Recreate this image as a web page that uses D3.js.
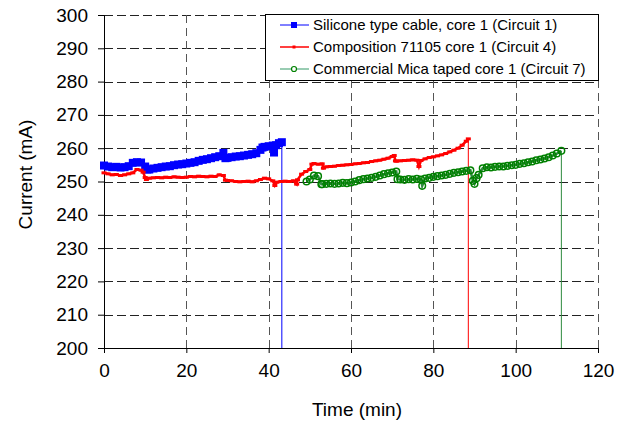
<!DOCTYPE html>
<html>
<head>
<meta charset="utf-8">
<script src="https://cdn.jsdelivr.net/npm/d3@7"></script>
<style>
  body { margin: 0; background: #fff; }
  text { font-family: Arial, "Liberation Sans", sans-serif; fill: #000; }
</style>
</head>
<body>
<div id="chart"></div>
<script>
// tick values
var xTicks = [0, 20, 40, 60, 80, 100, 120];
var yTicks = [200, 210, 220, 230, 240, 250, 260, 270, 280, 290, 300];

// series names
var seriesNames = [
  "Silicone type cable, core 1 (Circuit 1)",
  "Composition 71105 core 1 (Circuit 4)",
  "Commercial Mica taped core 1 (Circuit 7)"
];

// [time (min), current (mA)], last point is the drop at the end of the test
var siliconeData = [
  [0, 254.8], [1, 254.5], [2, 254.3], [3, 254.4], [4, 254.2], [5, 254.3], [6, 254.6],
  [7, 255.6], [8, 255.8], [9, 255.7], [10, 254.5], [10.5, 253.6], [11, 253.6], [12, 253.9],
  [13, 254.1], [14, 254.3], [15, 254.5], [16, 254.6], [17, 254.9], [18, 255.1], [19, 255.2],
  [20, 255.4], [21, 255.6], [22, 255.8], [23, 256.2], [24, 256.5], [25, 256.7], [26, 257.0],
  [27, 257.3], [28, 257.6], [29, 258.6], [29.5, 257.0], [30, 257.1], [31, 257.3], [32, 257.5],
  [33, 257.6], [34, 257.8], [35, 258.0], [36, 258.2], [37, 258.5], [38, 259.5], [38.5, 260.2],
  [39, 260.4], [40, 260.6], [41, 260.8], [41.3, 258.7], [41.8, 260.9], [42.5, 261.5],
  [43.2, 261.8], [43.2, 0]
];

var compositionData = [
  [0, 252.6], [1, 252.3], [2, 252.0], [3, 252.1], [4, 251.8], [5, 252.0], [6, 252.3],
  [7, 252.6], [8, 253.6], [9, 253.4], [9.5, 252.8], [10, 251.2], [10.3, 250.6], [11, 251.0],
  [12, 251.1], [13, 251.2], [14, 251.1], [15, 251.3], [16, 251.2], [17, 251.4], [18, 251.3],
  [19, 251.2], [20, 251.3], [21, 251.5], [22, 251.4], [23, 251.6], [24, 251.5], [25, 251.4],
  [26, 251.6], [27, 251.5], [28, 252.0], [29, 251.8], [29.5, 250.4], [30, 250.3], [31, 250.2],
  [32, 250.0], [33, 249.9], [34, 250.0], [35, 250.1], [36, 249.9], [37, 250.2], [38, 250.6],
  [39, 251.0], [40, 250.8], [41, 250.2], [41.5, 248.8], [42, 249.8], [43, 250.0], [44, 250.1],
  [45, 250.0], [46, 250.2], [46.8, 249.2], [47, 250.5], [48, 252.2], [49, 253.0], [50, 253.6],
  [50.5, 255.2], [51, 255.4], [52, 255.2], [53, 255.3], [53.3, 254.0], [54, 254.4], [55, 254.5],
  [56, 254.6], [57, 254.8], [58, 254.9], [59, 255.0], [60, 255.1], [61, 255.3], [62, 255.4],
  [63, 255.6], [64, 255.7], [65, 256.0], [66, 256.2], [67, 256.4], [68, 256.7], [69, 257.0],
  [70, 257.5], [70.5, 257.8], [70.8, 256.2], [71, 256.1], [72, 256.2], [73, 256.3], [74, 256.4],
  [75, 256.5], [76, 256.4], [76.5, 254.5], [77, 256.3], [78, 256.8], [79, 257.2], [80, 257.4],
  [81, 257.7], [82, 258.0], [83, 258.4], [84, 258.9], [85, 259.4], [86, 260.0], [87, 260.9],
  [88, 262.1], [88.5, 262.8], [88.5, 0]
];

var micaData = [
  [49.2, 250.0], [50, 250.6], [51, 251.8], [52, 251.6], [52.8, 249.2], [53, 249.2], [54, 249.3],
  [55, 249.4], [56, 249.3], [57, 249.4], [58, 249.6], [59, 249.5], [60, 249.7], [61, 250.0],
  [62, 250.4], [63, 250.7], [64, 250.9], [65, 251.1], [66, 251.4], [67, 251.8], [68, 252.2],
  [69, 252.5], [70, 252.7], [71, 253.0], [71.3, 250.7], [72, 250.6], [73, 250.5], [74, 250.7],
  [75, 250.6], [76, 250.8], [77, 250.6], [77.3, 248.7], [78, 250.9], [79, 251.1], [80, 251.4],
  [81, 251.6], [82, 251.8], [83, 252.0], [84, 252.3], [85, 252.6], [86, 252.8], [87, 253.0],
  [88, 253.2], [89, 253.4], [89.6, 250.2], [90, 249.3], [90.5, 251.0], [91, 252.0], [92, 254.0],
  [93, 254.3], [94, 254.2], [95, 254.4], [96, 254.5], [97, 254.5], [98, 254.7], [99, 254.9],
  [100, 255.0], [101, 255.3], [102, 255.5], [103, 255.8], [104, 256.0], [105, 256.4],
  [106, 256.6], [107, 256.9], [108, 257.3], [109, 257.8], [110, 258.4], [111.1, 259.2],
  [111.1, 0]
];

var margin = {top: 15, right: 30, bottom: 73, left: 104},
    width = 628 - margin.left - margin.right,
    height = 421 - margin.top - margin.bottom;

var svg = d3.select("#chart")
  .append("svg")
  .attr("width", 628)
  .attr("height", 421)
  .append("g")
  .attr("transform", "translate(" + margin.left + "," + margin.top + ")");

var xScale = d3.scaleLinear().domain([0, 120]).range([0, width]);
var yScale = d3.scaleLinear().domain([200, 300]).range([height, 0]);

svg.append("clipPath").attr("id", "plot-clip")
  .append("rect")
  .attr("x", -5).attr("y", -5)
  .attr("width", width + 10).attr("height", height + 5);

// dashed gridlines
svg.append("g").selectAll("line")
  .data(yTicks.slice(1))
  .enter().append("line")
  .attr("x1", 0).attr("x2", width)
  .attr("y1", function(d) { return Math.round(yScale(d)) + 0.5; })
  .attr("y2", function(d) { return Math.round(yScale(d)) + 0.5; })
  .attr("stroke", "#222")
  .attr("stroke-dasharray", "9,4");

svg.append("g").selectAll("line")
  .data(xTicks.slice(1))
  .enter().append("line")
  .attr("y1", 0).attr("y2", height)
  .attr("x1", function(d) { return Math.round(xScale(d)) + 0.5; })
  .attr("x2", function(d) { return Math.round(xScale(d)) + 0.5; })
  .attr("stroke", "#555")
  .attr("stroke-dasharray", "8,5");

// axes
var xAxis = d3.axisBottom(xScale).tickValues(xTicks).tickSize(5).tickPadding(11);
var yAxis = d3.axisLeft(yScale).tickValues(yTicks).tickSize(6).tickPadding(10);

var gx = svg.append("g")
  .attr("transform", "translate(0," + height + ")")
  .call(xAxis);
var gy = svg.append("g").call(yAxis);

[gx, gy].forEach(function(g) {
  g.select(".domain").attr("stroke", "#000");
  g.selectAll(".tick line").attr("stroke", "#000");
  g.selectAll("text")
    .style("font-family", "Arial, 'Liberation Sans', sans-serif")
    .style("font-size", "19px");
});

// axis titles
svg.append("text")
  .attr("x", width / 2 + 6)
  .attr("y", height + 68)
  .attr("text-anchor", "middle")
  .style("font-size", "19px")
  .text("Time (min)");

svg.append("text")
  .attr("transform", "translate(" + (-72) + "," + (height / 2 - 7) + ") rotate(-90)")
  .attr("text-anchor", "middle")
  .style("font-size", "19px")
  .text("Current (mA)");

// series
var line = d3.line()
  .x(function(d) { return xScale(d[0]); })
  .y(function(d) { return yScale(d[1]); });

var plot = svg.append("g").attr("clip-path", "url(#plot-clip)");

function drawLine(data, color, w) {
  plot.append("path")
    .datum(data)
    .attr("fill", "none")
    .attr("stroke", color)
    .attr("stroke-width", w)
    .attr("d", line);
}

// thick segments for the dense sampled part, thin drop line at the end
function drawSeries(data, color, w) {
  drawLine(data.slice(0, -1), color, w);
  drawLine(data.slice(-2), color, 1);
}

drawSeries(siliconeData, "#0000ff", 3);
drawSeries(compositionData, "#ff0000", 2.5);
drawSeries(micaData, "#2e8b3e", 2.5);

var marks = plot.append("g");

marks.selectAll(".sq")
  .data(siliconeData.slice(0, -1))
  .enter().append("rect")
  .attr("x", function(d) { return xScale(d[0]) - 4; })
  .attr("y", function(d) { return yScale(d[1]) - 4; })
  .attr("width", 8).attr("height", 8)
  .attr("fill", "#0000ff");

marks.selectAll(".dash")
  .data(compositionData.slice(0, -1))
  .enter().append("rect")
  .attr("x", function(d) { return xScale(d[0]) - 2.5; })
  .attr("y", function(d) { return yScale(d[1]) - 1.5; })
  .attr("width", 5).attr("height", 3)
  .attr("fill", "#ff0000");

marks.selectAll(".circ")
  .data(micaData.slice(0, -1))
  .enter().append("circle")
  .attr("cx", function(d) { return xScale(d[0]); })
  .attr("cy", function(d) { return yScale(d[1]); })
  .attr("r", 3.3)
  .attr("fill", "none")
  .attr("stroke", "#008000")
  .attr("stroke-width", 1.5);

// legend
var legend = svg.append("g").attr("transform", "translate(" + (265 - margin.left) + "," + (14 - margin.top) + ")");

legend.append("rect")
  .attr("x", 0.5).attr("y", 0.5)
  .attr("width", 333).attr("height", 66)
  .attr("fill", "#fff")
  .attr("stroke", "#000");

var legendColors = ["#0000ff", "#ff0000", "#339966"];

seriesNames.forEach(function(name, i) {
  var y = 11 + i * 22;
  legend.append("line")
    .attr("x1", 15).attr("x2", 44)
    .attr("y1", y).attr("y2", y)
    .attr("stroke", legendColors[i])
    .attr("stroke-width", i === 1 ? 1.5 : 1);
  if (i === 0) {
    legend.append("rect").attr("x", 26).attr("y", y - 3).attr("width", 6).attr("height", 6).attr("fill", "#0000ff");
  } else if (i === 1) {
    legend.append("rect").attr("x", 27.5).attr("y", y - 1.5).attr("width", 3).attr("height", 3).attr("fill", "#ff0000");
  } else {
    legend.append("circle").attr("cx", 29).attr("cy", y).attr("r", 2.5)
      .attr("fill", "#fff").attr("stroke", "#008000").attr("stroke-width", 1.2);
  }
  legend.append("text")
    .attr("x", 48)
    .attr("y", y + 5)
    .style("font-size", "15px")
    .text(name);
});
</script>
</body>
</html>
